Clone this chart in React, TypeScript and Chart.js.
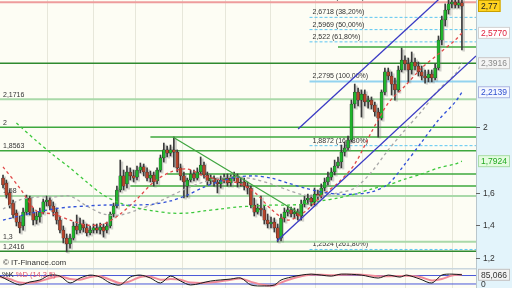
import React, { useEffect, useRef } from "react";
import { Chart, registerables } from "chart.js";

Chart.register(...registerables);

const X_MIN = -0.9;
const X_MAX = 141.2;
const Y_MIN = 1.139;
const Y_MAX = 2.778;

const OPEN = [
  1.689,1.659,1.598,1.536,1.475,1.420,1.396,1.481,1.567,1.481,
  1.432,1.451,1.481,1.543,1.555,1.518,1.481,1.432,1.371,1.322,
  1.286,1.322,1.396,1.371,1.408,1.384,1.353,1.371,1.384,1.371,
  1.390,1.371,1.396,1.469,1.518,1.616,1.702,1.653,1.726,1.702,
  1.695,1.738,1.757,1.726,1.689,1.708,1.671,1.738,1.812,1.861,
  1.842,1.861,1.848,1.751,1.702,1.640,1.677,1.714,1.689,1.726,
  1.769,1.708,1.671,1.689,1.665,1.653,1.677,1.689,1.659,1.689,
  1.702,1.659,1.665,1.640,1.628,1.524,1.481,1.506,1.494,1.432,
  1.408,1.420,1.384,1.322,1.445,1.481,1.494,1.469,1.481,1.457,
  1.530,1.555,1.567,1.543,1.591,1.579,1.628,1.665,1.695,1.726,
  1.763,1.787,1.848,1.873,1.922,2.142,2.215,2.166,2.203,2.154,
  2.166,2.136,2.093,2.056,2.215,2.338,2.313,2.264,2.228,2.350,
  2.411,2.387,2.350,2.399,2.374,2.338,2.313,2.301,2.325,2.301,
  2.362,2.533,2.656,2.717,2.754,2.766,2.747,2.760,
];
const HIGH = [
  1.708,1.677,1.616,1.555,1.494,1.457,1.506,1.585,1.579,1.506,
  1.481,1.506,1.561,1.579,1.573,1.543,1.506,1.451,1.396,1.347,
  1.347,1.420,1.463,1.445,1.432,1.408,1.396,1.408,1.408,1.414,
  1.408,1.420,1.481,1.536,1.640,1.799,1.738,1.763,1.751,1.738,
  1.763,1.781,1.775,1.751,1.732,1.726,1.751,1.830,1.903,1.885,
  1.891,1.940,1.861,1.775,1.726,1.689,1.738,1.738,1.751,1.818,
  1.787,1.726,1.708,1.702,1.689,1.702,1.714,1.714,1.708,1.726,
  1.714,1.689,1.689,1.665,1.640,1.567,1.530,1.579,1.518,1.469,
  1.451,1.445,1.408,1.469,1.506,1.518,1.512,1.506,1.500,1.555,
  1.579,1.591,1.585,1.628,1.616,1.653,1.689,1.726,1.751,1.799,
  1.818,1.891,1.910,1.946,2.166,2.264,2.240,2.228,2.228,2.191,
  2.185,2.154,2.117,2.228,2.362,2.362,2.338,2.301,2.374,2.484,
  2.436,2.423,2.460,2.423,2.399,2.374,2.350,2.350,2.350,2.387,
  2.558,2.680,2.754,2.790,2.790,2.790,2.790,2.790,
];
const LOW = [
  1.628,1.567,1.506,1.445,1.396,1.353,1.371,1.463,1.463,1.402,
  1.408,1.420,1.469,1.518,1.494,1.457,1.408,1.353,1.292,1.237,
  1.261,1.310,1.347,1.353,1.359,1.335,1.341,1.353,1.353,1.347,
  1.328,1.353,1.384,1.451,1.506,1.604,1.616,1.628,1.677,1.665,
  1.677,1.720,1.702,1.671,1.665,1.640,1.653,1.726,1.787,1.818,
  1.824,1.757,1.726,1.677,1.567,1.573,1.665,1.671,1.677,1.708,
  1.689,1.647,1.653,1.640,1.598,1.628,1.659,1.640,1.640,1.671,
  1.634,1.640,1.616,1.591,1.506,1.457,1.469,1.457,1.408,1.384,
  1.384,1.359,1.298,1.304,1.420,1.457,1.451,1.445,1.432,1.432,
  1.512,1.530,1.518,1.524,1.555,1.567,1.610,1.647,1.677,1.708,
  1.751,1.751,1.824,1.861,1.910,2.117,2.130,2.062,2.130,2.117,
  2.111,2.068,1.940,2.044,2.197,2.289,2.197,2.166,2.215,2.338,
  2.350,2.277,2.325,2.350,2.313,2.289,2.270,2.277,2.277,2.289,
  2.350,2.503,2.619,2.692,2.729,2.729,2.729,2.472,
];
const CLOSE = [
  1.647,1.585,1.524,1.463,1.420,1.384,1.481,1.567,1.481,1.432,
  1.457,1.481,1.543,1.555,1.518,1.481,1.432,1.371,1.322,1.286,
  1.322,1.396,1.371,1.408,1.384,1.353,1.371,1.384,1.371,1.390,
  1.365,1.396,1.469,1.518,1.616,1.702,1.640,1.726,1.702,1.689,
  1.738,1.757,1.726,1.689,1.708,1.665,1.738,1.812,1.861,1.842,
  1.861,1.848,1.751,1.702,1.665,1.677,1.714,1.689,1.726,1.769,
  1.708,1.671,1.689,1.665,1.653,1.677,1.689,1.659,1.689,1.702,
  1.659,1.665,1.640,1.628,1.524,1.481,1.506,1.494,1.432,1.408,
  1.420,1.384,1.322,1.445,1.481,1.494,1.469,1.481,1.457,1.530,
  1.555,1.567,1.543,1.591,1.579,1.628,1.665,1.695,1.726,1.763,
  1.787,1.848,1.873,1.922,2.142,2.215,2.166,2.203,2.154,2.166,
  2.136,2.093,2.056,2.215,2.338,2.313,2.264,2.228,2.350,2.411,
  2.387,2.350,2.399,2.374,2.338,2.313,2.301,2.325,2.301,2.362,
  2.533,2.656,2.717,2.754,2.766,2.747,2.760,2.740,
];

const MA_IDX = [0,5,10,15,20,25,30,35,40,45,50,55,60,65,70,75,80,85,90,95,100,105,110,115,120,125,130,135,137];
const MA_RED = [1.757,1.628,1.488,1.469,1.432,1.402,1.408,1.469,1.561,1.665,1.726,1.744,1.702,1.677,1.659,1.604,1.500,1.432,1.481,1.579,1.659,1.775,1.971,2.148,2.252,2.362,2.448,2.533,2.577];
const MA_GREY = [1.500,1.555,1.573,1.573,1.579,1.518,1.469,1.463,1.494,1.530,1.579,1.628,1.665,1.689,1.695,1.683,1.653,1.616,1.585,1.579,1.598,1.628,1.726,1.861,1.983,2.099,2.228,2.325,2.3916];
const MA_BLUE = [1.432,1.457,1.481,1.500,1.512,1.518,1.524,1.524,1.524,1.530,1.549,1.585,1.634,1.671,1.695,1.702,1.689,1.659,1.628,1.604,1.591,1.591,1.604,1.653,1.775,1.910,2.044,2.154,2.2139];
const MA_GREEN_IDX = [4,5,10,15,20,25,30,35,40,45,50,55,60,65,70,75,80,85,90,95,100,105,110,115,120,125,130,135,137];
const MA_GREEN = [2.026,2.007,1.916,1.830,1.751,1.665,1.585,1.536,1.506,1.488,1.475,1.475,1.488,1.500,1.512,1.518,1.524,1.524,1.530,1.549,1.567,1.591,1.622,1.647,1.683,1.714,1.751,1.775,1.7924];

const H_LEVELS = [2.491, 2.3916, 2.1716, 2.0, 1.94, 1.8563, 1.714, 1.64, 1.58, 1.3, 1.2416];
const H_LEVEL_START = [100, X_MIN, X_MIN, X_MIN, 44, X_MIN, 49, 38, X_MIN, X_MIN, X_MIN];
const H_LEVEL_KIND = ["mid", "dark", "light", "mid", "mid", "mid", "mid", "mid", "light", "light", "dark"];

const LEFT_LABEL_VALUES = [2.1716, 2, 1.8563, 1.58, 1.3, 1.2416];
const LEFT_LABELS = ["2,1716", "2", "1,8563", "1,58", "1,3", "1,2416"];

const FIB_VALUES = [2.7645, 2.6718, 2.5969, 2.522, 2.2795, 1.8872, 1.2524];
const FIB_LABELS = ["2,7645 (23,60%)", "2,6718 (38,20%)", "2,5969 (50,00%)", "2,522 (61,80%)", "2,2795 (100,00%)", "1,8872 (161,80%)", "1,2524 (261,80%)"];
const FIB_KIND = ["red", "dash", "dash", "dash", "solid", "dash", "dash"];
const FIB_START = 91.5;

const CHANNEL_UP_X = [88.1, 132];
const CHANNEL_UP_Y = [1.989, 2.818];
const CHANNEL_LO_X = [81.8, 141.2];
const CHANNEL_LO_Y = [1.304, 2.436];
const TREND_X = [50.7, 89.3];
const TREND_Y = [1.94, 1.463];

const GRID_IDX = [13.1, 26.9, 39.4, 53.4, 66.3, 79.7, 93.1, 107.2, 120, 134];

const Y_TICKS = [2, 1.6, 1.4, 1.2];
const Y_TICK_LABELS = ["2", "1,6", "1,4", "1,2"];

const LAST_VALUES = [2.77, 2.577, 2.3916, 2.2139, 1.7924];
const LAST_LABELS = ["2,77", "2,5770", "2,3916", "2,2139", "1,7924"];

const STOCH_IDX = [-0.9,2,5,8,11,14,17,20,23,26,29,32,35,38,41,44,47,50,53,56,62,68,71,74,78,81,83,86,89,92,95,98,101,107,112,115,118.5,120.5,124.5,128,131,134,137];
const STOCH_K = [76,41,13,34,48,83,76,27,62,83,69,27,13,69,83,62,27,76,41,13,41,55,62,13,6,13,48,69,83,90,83,76,90,83,62,83,69,83,55,27,83,90,85];
const STOCH_D = [70,55,30,28,40,60,75,55,50,70,75,50,25,40,70,72,50,55,50,30,30,50,58,35,12,10,30,55,75,85,86,82,85,86,75,75,76,78,70,45,55,80,86];
const STOCH_LEVELS = [80, 20];
const STOCH_LAST = 85.066;
const STOCH_LAST_LABEL = "85,066";

const FONT = '"Liberation Sans", Arial, sans-serif';

const LEVEL_STYLE: any = {
  mid: { color: "#3ea83e", width: 1.5 },
  dark: { color: "#2f8a2f", width: 1.5 },
  light: { color: "#a9d9a9", width: 2 },
};

function seg(xs: number[], ys: number[]) {
  return xs.map((x, i) => ({ x, y: ys[i] }));
}

function lineDs(data: any[], color: string, width: number, dash: number[], order: number, tension = 0) {
  return {
    type: "line",
    data,
    borderColor: color,
    borderWidth: width,
    borderDash: dash,
    pointRadius: 0,
    fill: false,
    tension,
    order,
    clip: 0,
  };
}

function bgPlugin(id: string) {
  return {
    id,
    beforeDraw(chart: any) {
      const { ctx, chartArea: a, width, height } = chart;
      ctx.save();
      ctx.fillStyle = "#fdfdf4";
      ctx.fillRect(a.left, 0, a.right - a.left, height);
      ctx.fillStyle = "#e3f4fb";
      ctx.fillRect(a.right, 0, width - a.right, height);
      const xs = chart.scales.x;
      ctx.strokeStyle = "#e7e7da";
      ctx.lineWidth = 1;
      for (const g of GRID_IDX) {
        const px = Math.round(xs.getPixelForValue(g)) + 0.5;
        ctx.beginPath();
        ctx.moveTo(px, a.top);
        ctx.lineTo(px, a.bottom);
        ctx.stroke();
      }
      ctx.strokeStyle = "#b9c6cc";
      ctx.beginPath();
      ctx.moveTo(a.right + 0.5, 0);
      ctx.lineTo(a.right + 0.5, height);
      ctx.stroke();
      ctx.restore();
    },
  };
}

function drawBox(ctx: any, x: number, y: number, text: string, bg: string, fg: string, border: string) {
  ctx.font = `8.5px ${FONT}`;
  const w = ctx.measureText(text).width + 6;
  ctx.fillStyle = bg;
  ctx.fillRect(x, y - 6, w, 12);
  ctx.strokeStyle = border;
  ctx.lineWidth = 1;
  ctx.strokeRect(x + 0.5, y - 5.5, w - 1, 11);
  ctx.fillStyle = fg;
  ctx.textAlign = "left";
  ctx.textBaseline = "middle";
  ctx.fillText(text, x + 3, y + 0.5);
}

export default function App() {
  const mainRef = useRef<HTMLCanvasElement>(null);
  const stochRef = useRef<HTMLCanvasElement>(null);

  useEffect(() => {
    const idx = CLOSE.map((_, i) => i);

    const labelsBelow = {
      id: "labelsBelow",
      beforeDatasetsDraw(chart: any) {
        const { ctx } = chart;
        const xs = chart.scales.x;
        const ys = chart.scales.y;
        ctx.save();
        ctx.font = `7px ${FONT}`;
        ctx.fillStyle = "#333";
        ctx.textAlign = "left";
        ctx.textBaseline = "bottom";
        LEFT_LABEL_VALUES.forEach((v, i) => {
          ctx.fillText(LEFT_LABELS[i], 3, ys.getPixelForValue(v) - 1);
        });
        const fx = xs.getPixelForValue(FIB_START) + 3;
        FIB_VALUES.forEach((v, i) => {
          ctx.fillText(FIB_LABELS[i], fx, ys.getPixelForValue(v) - 1.5);
        });
        ctx.restore();
      },
    };

    const axisPlugin = {
      id: "axisMain",
      afterDraw(chart: any) {
        const { ctx, chartArea: a } = chart;
        const ys = chart.scales.y;
        ctx.save();
        ctx.font = `8.5px ${FONT}`;
        ctx.fillStyle = "#333";
        ctx.strokeStyle = "#666";
        ctx.lineWidth = 1;
        ctx.textAlign = "left";
        ctx.textBaseline = "middle";
        Y_TICKS.forEach((v, i) => {
          const py = Math.round(ys.getPixelForValue(v)) + 0.5;
          ctx.beginPath();
          ctx.moveTo(a.right, py);
          ctx.lineTo(a.right + 4, py);
          ctx.stroke();
          ctx.fillText(Y_TICK_LABELS[i], a.right + 7, py);
        });
        const styles = [
          { bg: "#ffd21f", fg: "#222", border: "#c9a000" },
          { bg: "#ffffff", fg: "#e0203c", border: "#d0d0d0" },
          { bg: "#f4f4f4", fg: "#8a8a8a", border: "#c8c8c8" },
          { bg: "#f4f7ff", fg: "#2f4fd0", border: "#a8b4e0" },
          { bg: "#e4fbe0", fg: "#22aa22", border: "#a8dca8" },
        ];
        LAST_VALUES.forEach((v, i) => {
          const py = Math.max(6, ys.getPixelForValue(v));
          drawBox(ctx, a.right + 2, py, LAST_LABELS[i], styles[i].bg, styles[i].fg, styles[i].border);
        });
        ctx.font = `8px ${FONT}`;
        ctx.fillStyle = "#333";
        ctx.textAlign = "left";
        ctx.textBaseline = "middle";
        ctx.fillText("\u00a9 IT-Finance.com", 3, a.bottom - 5);
        ctx.restore();
      },
    };

    const datasets: any[] = [];
    H_LEVELS.forEach((v, i) => {
      const st = LEVEL_STYLE[H_LEVEL_KIND[i]];
      datasets.push(lineDs(seg([H_LEVEL_START[i], X_MAX], [v, v]), st.color, st.width, [], 20));
    });
    FIB_VALUES.forEach((v, i) => {
      const k = FIB_KIND[i];
      if (k === "red") datasets.push(lineDs(seg([X_MIN, X_MAX], [v, v]), "#ee9c9c", 2, [], 19));
      else if (k === "solid") datasets.push(lineDs(seg([FIB_START, X_MAX], [v, v]), "#93d3ef", 2, [], 19));
      else datasets.push(lineDs(seg([FIB_START, X_MAX], [v, v]), "#5cc6f2", 1, [3, 2], 19));
    });
    datasets.push(lineDs(seg(CHANNEL_UP_X, CHANNEL_UP_Y), "#3a3ac4", 1.3, [], 3));
    datasets.push(lineDs(seg(CHANNEL_LO_X, CHANNEL_LO_Y), "#3a3ac4", 1.3, [], 3));
    datasets.push(lineDs(seg(TREND_X, TREND_Y), "#3fa53f", 1.2, [], 3));
    datasets.push(lineDs(seg(MA_GREEN_IDX, MA_GREEN), "#3cc83c", 1.3, [3, 3], 4, 0.3));
    datasets.push(lineDs(seg(MA_IDX, MA_BLUE), "#3050d8", 1.3, [3, 3], 4, 0.3));
    datasets.push(lineDs(seg(MA_IDX, MA_GREY), "#a8a8a8", 1.3, [3, 3], 4, 0.3));
    datasets.push(lineDs(seg(MA_IDX, MA_RED), "#e04848", 1.3, [3, 3], 4, 0.3));
    const wickIndex = datasets.length;
    datasets.push({
      type: "bar",
      data: idx.map((i) => ({ x: i, y: [LOW[i], HIGH[i]] })),
      backgroundColor: "#3a3a3a",
      barThickness: 1,
      grouped: false,
      order: 6,
    });
    datasets.push({
      type: "bar",
      data: idx.map((i) => ({ x: i, y: [OPEN[i], CLOSE[i]] })),
      backgroundColor: idx.map((i) => (CLOSE[i] >= OPEN[i] ? "#1fb52c" : "#b5452c")),
      borderColor: "#2c2c2c",
      borderWidth: 0.5,
      borderSkipped: false,
      barThickness: 3,
      minBarLength: 1,
      grouped: false,
      order: 5,
    });

    // soft grey shadow behind each candle, placed from the wick elements
    const shadowPlugin = {
      id: "candleShadow",
      beforeDatasetDraw(chart: any, args: any) {
        if (args.index !== wickIndex) return;
        const { ctx, chartArea: a } = chart;
        const meta = chart.getDatasetMeta(wickIndex);
        ctx.save();
        ctx.beginPath();
        ctx.rect(a.left, a.top, a.right - a.left, a.bottom - a.top);
        ctx.clip();
        ctx.fillStyle = "rgba(130,130,130,0.35)";
        meta.data.forEach((el: any) => {
          const top = Math.min(el.y, el.base);
          const h = Math.abs(el.base - el.y);
          ctx.fillRect(el.x + 0.5, top + 1.5, 2.5, h);
        });
        ctx.restore();
      },
    };

    const main = new Chart(mainRef.current as any, {
      type: "bar",
      data: { datasets },
      options: {
        responsive: false,
        animation: false,
        devicePixelRatio: 1,
        events: [],
        layout: { padding: { left: 0, right: 36, top: 0, bottom: 0 } },
        plugins: { legend: { display: false }, tooltip: { enabled: false } },
        scales: {
          x: { type: "linear", min: X_MIN, max: X_MAX, display: false, offset: false },
          y: { type: "linear", min: Y_MIN, max: Y_MAX, display: false },
        },
      } as any,
      plugins: [bgPlugin("bgMain"), labelsBelow, shadowPlugin, axisPlugin],
    } as any);

    const stochAxis = {
      id: "axisStoch",
      afterDraw(chart: any) {
        const { ctx, chartArea: a } = chart;
        const ys = chart.scales.y;
        ctx.save();
        ctx.fillStyle = "#c9d6de";
        ctx.fillRect(0, 0, a.right, 1.5);
        ctx.font = `7.5px ${FONT}`;
        ctx.textAlign = "left";
        ctx.textBaseline = "middle";
        ctx.fillStyle = "#222";
        ctx.fillText("%K", 2, 7);
        const w = ctx.measureText("%K ").width;
        ctx.fillStyle = "#e05068";
        ctx.fillText("%D (14,3,5)", 2 + w, 7);
        drawBox(ctx, a.right + 2, Math.max(6, ys.getPixelForValue(STOCH_LAST)), STOCH_LAST_LABEL, "#f4f4f4", "#333", "#c0c0c0");
        ctx.font = `8.5px ${FONT}`;
        ctx.fillStyle = "#333";
        ctx.textBaseline = "middle";
        ctx.fillText("0", a.right + 5, Math.min(16.5, ys.getPixelForValue(0)));
        ctx.restore();
      },
    };

    const stoch = new Chart(stochRef.current as any, {
      type: "line",
      data: {
        datasets: [
          lineDs(seg(STOCH_IDX, STOCH_K), "#1a1a1a", 1, [], 1, 0.3),
          lineDs(seg(STOCH_IDX, STOCH_D), "#f08a98", 2, [], 2, 0.3),
          ...STOCH_LEVELS.map((v) => lineDs(seg([X_MIN, X_MAX], [v, v]), "#4a58d8", 1, [], 3)),
        ],
      },
      options: {
        responsive: false,
        animation: false,
        devicePixelRatio: 1,
        events: [],
        layout: { padding: { left: 0, right: 36, top: 0, bottom: 0 } },
        plugins: { legend: { display: false }, tooltip: { enabled: false } },
        scales: {
          x: { type: "linear", min: X_MIN, max: X_MAX, display: false },
          y: { type: "linear", min: -8.5, max: 133.3, display: false },
        },
      } as any,
      plugins: [bgPlugin("bgStoch"), stochAxis],
    } as any);

    return () => {
      main.destroy();
      stoch.destroy();
    };
  }, []);

  return (
    <div style={{ position: "absolute", left: 0, top: 0, width: 512, height: 288, overflow: "hidden" }}>
      <canvas ref={mainRef} width={512} height={268} style={{ display: "block", position: "absolute", left: 0, top: 0 }} />
      <canvas ref={stochRef} width={512} height={20} style={{ display: "block", position: "absolute", left: 0, top: 268 }} />
    </div>
  );
}
